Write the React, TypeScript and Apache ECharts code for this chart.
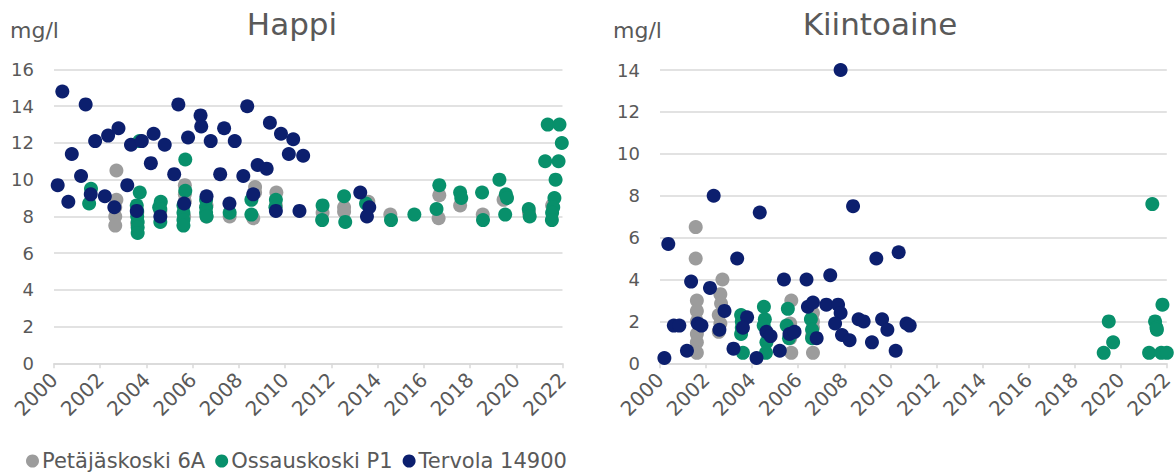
import React, { useEffect, useRef } from "react";
import * as echarts from "echarts";

const seriesNames = ["Petäjäskoski 6A", "Ossauskoski P1", "Tervola 14900"];
const seriesColors = ["#9C9C9C", "#08906B", "#0C1F6E"];
const chartTitles = ["Happi", "Kiintoaine"];
const unitLabel = "mg/l";
const yMax = [16, 14];

// Happi (oxygen), [year, mg/l]
const happiPetajaskoski: number[][] = [
  [2002.7, 10.5], [2002.7, 8.9], [2002.65, 8.5], [2002.65, 8.0], [2002.65, 7.5],
  [2003.6, 8.2], [2003.6, 7.6], [2004.6, 8.3],
  [2005.66, 9.7], [2005.66, 9.2], [2005.66, 8.8], [2005.63, 8.0],
  [2006.6, 8.0], [2006.6, 8.6], [2007.6, 8.0],
  [2008.7, 9.6], [2008.62, 7.9], [2008.7, 9.3],
  [2009.62, 9.3], [2009.6, 8.6],
  [2011.62, 8.2], [2012.55, 8.5], [2012.55, 8.25], [2013.6, 8.8],
  [2014.55, 8.1], [2016.67, 9.15], [2016.64, 7.9], [2017.57, 8.6],
  [2018.55, 8.1], [2019.45, 8.9], [2020.55, 8.2], [2021.55, 8.6],
];
const happiOssauskoski: number[][] = [
  [2001.6, 9.5], [2001.52, 8.7],
  [2003.7, 12.1], [2003.71, 9.3], [2003.58, 8.6], [2003.6, 8.3], [2003.6, 8.0],
  [2003.62, 7.7], [2003.62, 7.4], [2003.62, 7.1],
  [2004.62, 8.8], [2004.55, 8.5], [2004.6, 8.4], [2004.6, 7.7],
  [2005.68, 11.1], [2005.68, 9.4], [2005.6, 8.6], [2005.6, 8.2], [2005.6, 7.8], [2005.6, 7.5],
  [2006.58, 8.9], [2006.58, 8.5], [2006.58, 8.2], [2006.6, 8.0],
  [2007.6, 8.2], [2008.54, 8.9], [2008.54, 8.1],
  [2009.6, 8.9], [2009.58, 8.5],
  [2011.62, 8.6], [2011.6, 7.8], [2012.55, 9.1], [2012.6, 7.7],
  [2013.5, 8.7], [2014.58, 7.8], [2015.59, 8.1],
  [2016.67, 9.7], [2016.55, 8.4], [2017.57, 9.3], [2017.62, 9.0],
  [2018.52, 9.3], [2018.56, 7.8],
  [2019.27, 10.0], [2019.55, 9.2], [2019.6, 9.0], [2019.52, 8.1],
  [2020.54, 8.4], [2020.58, 8.0],
  [2021.36, 13.0], [2021.87, 13.0], [2021.97, 12.0], [2021.25, 11.0], [2021.83, 11.0],
  [2021.7, 10.0], [2021.65, 9.0], [2021.6, 8.5], [2021.55, 8.2], [2021.54, 7.8],
];
const happiTervola: number[][] = [
  [2000.36, 14.8], [2001.37, 14.1], [2000.77, 11.4], [2000.16, 9.7], [2000.62, 8.8],
  [2001.17, 10.2], [2001.78, 12.1], [2002.34, 12.4], [2002.79, 12.8], [2001.59, 9.2],
  [2002.2, 9.1], [2002.61, 8.5], [2003.17, 9.7], [2003.33, 11.9], [2003.8, 12.1],
  [2004.31, 12.5], [2004.19, 10.9], [2004.79, 11.9], [2003.58, 8.3], [2004.6, 8.0],
  [2005.2, 10.3], [2005.38, 14.1], [2005.8, 12.3], [2005.63, 8.7], [2006.34, 13.5],
  [2006.37, 12.9], [2006.78, 12.1], [2006.6, 9.1], [2007.36, 12.8], [2007.82, 12.1],
  [2007.19, 10.3], [2007.59, 8.7], [2008.36, 14.0], [2008.19, 10.2], [2008.62, 9.2],
  [2008.81, 10.8], [2009.2, 10.6], [2009.34, 13.1], [2009.82, 12.5], [2010.35, 12.2],
  [2010.16, 11.4], [2010.78, 11.3], [2009.6, 8.3], [2010.62, 8.3],
  [2013.25, 9.3], [2013.64, 8.5], [2013.54, 8.0],
];

// Kiintoaine (suspended solids), [year, mg/l]
const kiintoPetajaskoski: number[][] = [
  [2001.55, 6.5], [2001.55, 5.0], [2001.6, 3.0], [2001.6, 2.5], [2001.6, 2.0],
  [2001.6, 1.4], [2001.6, 1.0], [2001.6, 0.5],
  [2002.71, 4.0], [2002.62, 3.3], [2002.65, 2.85], [2002.55, 2.3], [2002.62, 1.9], [2002.55, 1.5],
  [2005.7, 3.0], [2005.65, 1.9], [2005.65, 1.2], [2005.7, 0.5],
  [2006.64, 2.4], [2006.64, 2.0], [2006.64, 1.7], [2006.6, 1.3], [2006.64, 0.5],
];
const kiintoOssauskoski: number[][] = [
  [2003.52, 2.3], [2003.55, 2.0], [2003.55, 1.7], [2003.52, 1.4], [2003.6, 0.5],
  [2004.51, 2.7], [2004.55, 2.1], [2004.5, 1.8], [2004.62, 1.0], [2004.6, 0.5],
  [2005.55, 2.6], [2005.5, 1.8], [2005.6, 1.2],
  [2006.55, 2.1], [2006.6, 1.6], [2006.6, 1.2],
  [2019.26, 0.5], [2019.48, 2.0], [2019.67, 1.0],
  [2021.37, 7.6], [2021.49, 2.0], [2021.55, 1.7], [2021.57, 1.6], [2021.81, 2.8],
  [2021.23, 0.5], [2021.76, 0.5], [2022.0, 0.5],
];
const kiintoTervola: number[][] = [
  [2007.84, 14.0], [2002.33, 8.0], [2004.33, 7.2], [2008.38, 7.5], [2000.36, 5.7],
  [2003.35, 5.0], [2009.39, 5.0], [2010.36, 5.3], [2001.35, 3.9], [2002.17, 3.6],
  [2005.38, 4.0], [2006.36, 4.0], [2007.39, 4.2], [2002.8, 2.5], [2003.78, 2.2],
  [2003.6, 1.7], [2002.58, 1.6], [2000.6, 1.8], [2000.84, 1.8], [2001.64, 1.9],
  [2001.8, 1.8], [2000.19, 0.25], [2001.17, 0.6], [2003.19, 0.7], [2004.19, 0.25],
  [2005.2, 0.6], [2004.62, 1.5], [2004.8, 1.3], [2005.62, 1.4], [2005.84, 1.5],
  [2006.42, 2.7], [2006.64, 2.9], [2006.8, 1.2], [2007.22, 2.8], [2007.73, 2.8],
  [2007.84, 2.4], [2007.6, 1.9], [2007.9, 1.35], [2008.23, 1.1], [2008.62, 2.1],
  [2008.84, 2.0], [2009.2, 1.0], [2009.64, 2.1], [2009.87, 1.6], [2010.23, 0.6],
  [2010.7, 1.9], [2010.84, 1.8],
];

const FONT = "'DejaVu Sans', Verdana, sans-serif";
const TEXT = "#595959";
const GRID = "#D9D9D9";

export default function App() {
  const ref = useRef<HTMLDivElement>(null);
  useEffect(() => {
    if (!ref.current) return;
    const chart = echarts.init(ref.current, undefined, { renderer: "svg" });
    const grids = [
      { left: 54, top: 69.5, width: 508.5, height: 293.8 },
      { left: 660, top: 70, width: 507, height: 293.3 },
    ];
    const xAxes = [0, 1].map((i) => ({
      type: "value",
      gridIndex: i,
      min: 2000,
      max: 2022,
      interval: 2,
      axisLine: { show: true, lineStyle: { color: GRID, width: 1.5 } },
      axisTick: { show: true, length: 5, lineStyle: { color: GRID, width: 1.5 } },
      splitLine: { show: false },
      axisLabel: {
        rotate: 45,
        fontSize: 20,
        color: TEXT,
        fontFamily: FONT,
        margin: 13,
        formatter: (v: number) => String(v),
      },
    }));
    const yAxes = [0, 1].map((i) => ({
      type: "value",
      gridIndex: i,
      min: 0,
      max: yMax[i],
      interval: 2,
      axisLine: { show: false },
      axisTick: { show: false },
      splitLine: { show: true, lineStyle: { color: GRID, width: 1.5 } },
      axisLabel: { fontSize: 18, color: TEXT, fontFamily: FONT, margin: 20 },
    }));
    const data = [
      [happiPetajaskoski, happiOssauskoski, happiTervola],
      [kiintoPetajaskoski, kiintoOssauskoski, kiintoTervola],
    ];
    const series: any[] = [];
    data.forEach((chartData, ci) => {
      chartData.forEach((d, si) => {
        series.push({
          type: "scatter",
          name: seriesNames[si],
          xAxisIndex: ci,
          yAxisIndex: ci,
          data: d,
          symbolSize: 14,
          itemStyle: { color: seriesColors[si], opacity: 1 },
          z: 2 + si,
        });
      });
    });
    chart.setOption({
      animation: false,
      textStyle: { fontFamily: FONT },
      grid: grids,
      xAxis: xAxes,
      yAxis: yAxes,
      legend: {
        data: seriesNames,
        left: 26,
        top: 449,
        padding: 0,
        icon: "circle",
        itemWidth: 13,
        itemHeight: 13,
        itemGap: 10,
        textStyle: { fontSize: 21, lineHeight: 24, color: TEXT, fontFamily: FONT, padding: [0, 0, 0, -2] },
      },
      graphic: [
        { type: "text", x: 292, y: 24, style: { text: chartTitles[0], fontSize: 31, fill: TEXT, fontFamily: FONT, textAlign: "center", textVerticalAlign: "middle" } },
        { type: "text", x: 880, y: 24, style: { text: chartTitles[1], fontSize: 31, fill: TEXT, fontFamily: FONT, textAlign: "center", textVerticalAlign: "middle" } },
        { type: "text", x: 10, y: 30, style: { text: unitLabel, fontSize: 22, fill: TEXT, fontFamily: FONT, textAlign: "left", textVerticalAlign: "middle" } },
        { type: "text", x: 613, y: 30, style: { text: unitLabel, fontSize: 22, fill: TEXT, fontFamily: FONT, textAlign: "left", textVerticalAlign: "middle" } },
      ],
      series,
    });
    return () => chart.dispose();
  }, []);
  return (
    <div
      ref={ref}
      style={{ position: "fixed", left: 0, top: 0, width: 1176, height: 475, background: "#fff" }}
    />
  );
}
